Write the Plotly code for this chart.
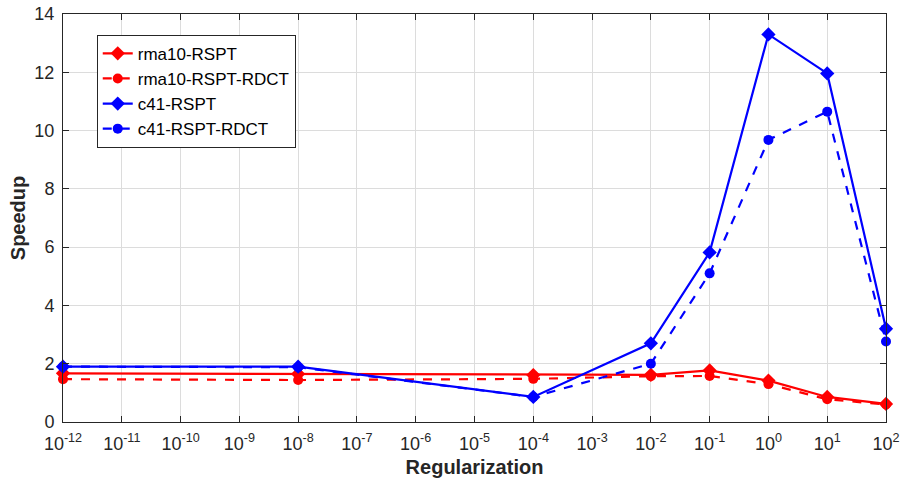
import plotly.graph_objects as go

reg = [1e-12, 1e-8, 1e-4, 1e-2, 1e-1, 1e0, 1e1, 1e2]
rma10_rspt = [1.67, 1.65, 1.61, 1.62, 1.77, 1.42, 0.86, 0.62]
rma10_rspt_rdct = [1.47, 1.44, 1.48, 1.57, 1.58, 1.3, 0.78, 0.6]
c41_rspt = [1.9, 1.9, 0.86, 2.7, 5.82, 13.3, 11.96, 3.2]
c41_rspt_rdct = [1.9, 1.88, 0.86, 2.0, 5.1, 9.68, 10.65, 2.76]

xtick_vals = [10.0 ** e for e in range(-12, 3)]
xtick_text = ["10<sup>%d</sup>" % e for e in range(-12, 3)]
ytick_vals = list(range(0, 15, 2))

RED = "rgb(255,0,0)"
BLUE = "rgb(0,0,255)"

fig = go.Figure()
series = [
    ("rma10-RSPT", rma10_rspt, RED, "solid", "diamond", 11),
    ("rma10-RSPT-RDCT", rma10_rspt_rdct, RED, "dash", "circle", 10),
    ("c41-RSPT", c41_rspt, BLUE, "solid", "diamond", 11),
    ("c41-RSPT-RDCT", c41_rspt_rdct, BLUE, "dash", "circle", 10),
]
for name, ys, col, dash, sym, sz in series:
    fig.add_trace(go.Scatter(
        x=reg, y=ys, name=name, mode="lines+markers",
        line=dict(color=col, width=2.2, dash=dash),
        marker=dict(symbol=sym, size=sz, color=col),
        cliponaxis=False,
    ))

fig.update_layout(
    width=903, height=483,
    margin=dict(l=63, r=17, t=14, b=61),
    paper_bgcolor="white", plot_bgcolor="white",
    font=dict(family="Liberation Sans, Arial, sans-serif", color="#262626"),
    showlegend=True,
    legend=dict(
        x=0.041, y=0.949, xanchor="left", yanchor="top",
        bordercolor="#262626", borderwidth=1, bgcolor="white",
        font=dict(size=17, color="black"),
        tracegroupgap=0, itemwidth=30,
    ),
)
fig.update_xaxes(
    type="log", range=[-12, 2], automargin=False,
    tickvals=xtick_vals, ticktext=xtick_text,
    tickfont=dict(size=18), ticklabelstandoff=5,
    ticks="inside", ticklen=6, tickcolor="#262626",
    showline=True, linecolor="#262626", linewidth=1, mirror="ticks",
    showgrid=True, gridcolor="#dcdcdc", gridwidth=1,
    minor=dict(ticks="inside", ticklen=3, tickcolor="#262626",
               showgrid=True, gridcolor="#e6e6e6", griddash="dot"),
    title=dict(text="<b>Regularization</b>", font=dict(size=20, color="#262626"), standoff=7),
    zeroline=False,
)
fig.update_yaxes(
    range=[0, 14], tickvals=ytick_vals, automargin=False,
    tickfont=dict(size=18), ticklabelstandoff=4,
    ticks="inside", ticklen=6, tickcolor="#262626",
    showline=True, linecolor="#262626", linewidth=1, mirror="ticks",
    showgrid=True, gridcolor="#dcdcdc", gridwidth=1,
    title=dict(text="<b>Speedup</b>", font=dict(size=20, color="#262626"), standoff=3),
    zeroline=False,
)

fig.write_html("out.html", config={"displayModeBar": False},
               post_script="document.body.style.margin='0';")
